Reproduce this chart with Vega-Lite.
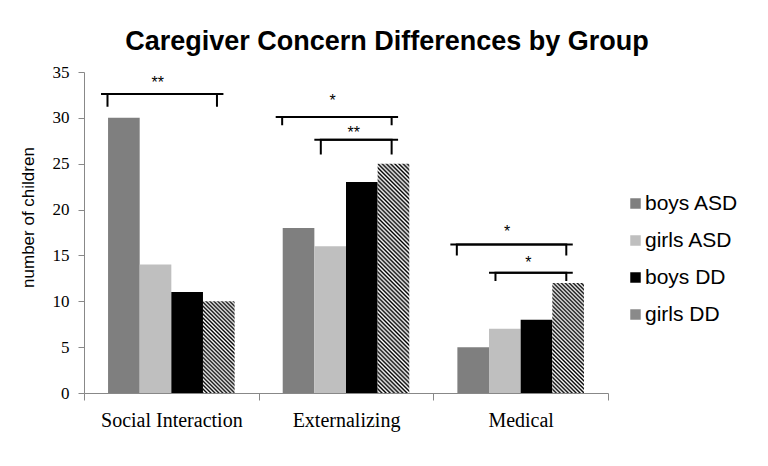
{
  "$schema": "https://vega.github.io/schema/vega-lite/v6.json",
  "width": 524,
  "height": 321,
  "autosize": {"type": "none"},
  "padding": {"left": 84, "top": 72, "right": 160, "bottom": 73},
  "background": "white",
  "title": {"text": "Caregiver Concern Differences by Group", "font": "Liberation Sans", "fontSize": 27, "fontWeight": "bold", "color": "#000", "anchor": "middle", "dx": 41, "offset": 7},
  "config": {"view": {"stroke": null}, "axis": {"grid": false}},
  "resolve": {"scale": {"xOffset": "independent"}},
  "datasets": {
    "bars": [
      {"category": "Social Interaction", "series": "boys ASD", "value": 30},
      {"category": "Social Interaction", "series": "girls ASD", "value": 14},
      {"category": "Social Interaction", "series": "boys DD", "value": 11},
      {"category": "Social Interaction", "series": "girls DD", "value": 10},
      {"category": "Externalizing", "series": "boys ASD", "value": 18},
      {"category": "Externalizing", "series": "girls ASD", "value": 16},
      {"category": "Externalizing", "series": "boys DD", "value": 23},
      {"category": "Externalizing", "series": "girls DD", "value": 25},
      {"category": "Medical", "series": "boys ASD", "value": 5},
      {"category": "Medical", "series": "girls ASD", "value": 7},
      {"category": "Medical", "series": "boys DD", "value": 8},
      {"category": "Medical", "series": "girls DD", "value": 12}
    ],
    "brackets": [
      {"id": "s1", "category": "Social Interaction", "series": "boys ASD", "y": 31.2, "step": 1},
      {"id": "s1", "category": "Social Interaction", "series": "boys ASD", "y": 32.6, "step": 2},
      {"id": "s1", "category": "Social Interaction", "series": "girls DD", "y": 32.6, "step": 3},
      {"id": "s1", "category": "Social Interaction", "series": "girls DD", "y": 31.2, "step": 4},
      {"id": "e1", "category": "Externalizing", "series": "boys ASD", "y": 29.2, "step": 1},
      {"id": "e1", "category": "Externalizing", "series": "boys ASD", "y": 30.1, "step": 2},
      {"id": "e1", "category": "Externalizing", "series": "girls DD", "y": 30.1, "step": 3},
      {"id": "e1", "category": "Externalizing", "series": "girls DD", "y": 29.2, "step": 4},
      {"id": "e2", "category": "Externalizing", "series": "girls ASD", "y": 26.0, "step": 1},
      {"id": "e2", "category": "Externalizing", "series": "girls ASD", "y": 27.6, "step": 2},
      {"id": "e2", "category": "Externalizing", "series": "girls DD", "y": 27.6, "step": 3},
      {"id": "e2", "category": "Externalizing", "series": "girls DD", "y": 26.0, "step": 4},
      {"id": "m1", "category": "Medical", "series": "boys ASD", "y": 15.0, "step": 1},
      {"id": "m1", "category": "Medical", "series": "boys ASD", "y": 16.2, "step": 2},
      {"id": "m1", "category": "Medical", "series": "girls DD", "y": 16.2, "step": 3},
      {"id": "m1", "category": "Medical", "series": "girls DD", "y": 15.0, "step": 4},
      {"id": "m2", "category": "Medical", "series": "girls ASD", "y": 12.2, "step": 1},
      {"id": "m2", "category": "Medical", "series": "girls ASD", "y": 13.1, "step": 2},
      {"id": "m2", "category": "Medical", "series": "girls DD", "y": 13.1, "step": 3},
      {"id": "m2", "category": "Medical", "series": "girls DD", "y": 12.2, "step": 4}
    ],
    "stars": [
      {"category": "Social Interaction", "series": "girls ASD", "y": 33.8, "label": "**"},
      {"category": "Externalizing", "series": "girls ASD", "y": 31.8, "label": "*"},
      {"category": "Externalizing", "series": "boys DD", "y": 28.4, "label": "**"},
      {"category": "Medical", "series": "girls ASD", "y": 17.6, "label": "*"},
      {"category": "Medical", "series": "boys DD", "y": 14.2, "label": "*"}
    ]
  },
  "data": {"name": "bars"},
  "layer": [
    {
      "transform": [{"filter": "datum.series !== 'girls DD'"}],
      "mark": {"type": "bar"},
      "encoding": {
        "x": {"field": "category", "type": "nominal", "scale": {"domain": ["Social Interaction", "Externalizing", "Medical"], "paddingInner": 0, "paddingOuter": 0},
          "axis": {"title": null, "labelAngle": 0, "labelFont": "Liberation Serif", "labelFontSize": 20, "labelColor": "#000", "labelPadding": 10, "tickSize": 7, "tickBand": "extent", "tickColor": "#888", "domainColor": "#888"}},
        "xOffset": {"field": "series", "type": "nominal", "scale": {"domain": ["boys ASD", "girls ASD", "boys DD", "girls DD"], "paddingInner": 0, "paddingOuter": 0.76}},
        "y": {"field": "value", "type": "quantitative", "scale": {"domain": [0, 35], "nice": false},
          "axis": {"values": [0, 5, 10, 15, 20, 25, 30, 35], "title": "number of children", "titleFont": "Liberation Sans", "titleFontSize": 17, "titleFontWeight": "normal", "titleColor": "#000", "titleX": -56, "titleY": 145, "titleAngle": -90, "titleAlign": "center", "titleBaseline": "middle", "labelFont": "Liberation Serif", "labelFontSize": 17, "labelColor": "#000", "labelPadding": 9, "tickSize": 6, "tickColor": "#888", "domainColor": "#888"}},
        "color": {"field": "series", "type": "nominal",
          "scale": {"domain": ["boys ASD", "girls ASD", "boys DD", "girls DD"], "range": ["#7f7f7f", "#bfbfbf", "#000000", "#8a8a8a"]},
          "legend": {"orient": "none", "legendX": 541, "legendY": 121, "title": null, "labelFont": "Liberation Sans", "labelFontSize": 21, "labelColor": "#000", "symbolType": "square", "symbolSize": 110, "symbolStrokeWidth": 0, "rowPadding": 15, "labelOffset": -1, "padding": 0}}
      }
    },
    {
      "transform": [{"filter": "datum.series === 'girls DD' && datum.category === 'Social Interaction'"}],
      "mark": {"type": "bar", "fill": {"gradient": "linear", "x1": 0, "y1": 1, "x2": 0.4139, "y2": -0.2019, "stops": [
        {"offset": 0, "color": "#000"}, {"offset": 0.016, "color": "#fff"}, {"offset": 0.032, "color": "#000"}, {"offset": 0.048, "color": "#fff"}, {"offset": 0.064, "color": "#000"}, {"offset": 0.08, "color": "#fff"}, {"offset": 0.096, "color": "#000"}, {"offset": 0.112, "color": "#fff"}, {"offset": 0.128, "color": "#000"}, {"offset": 0.144, "color": "#fff"}, {"offset": 0.16, "color": "#000"}, {"offset": 0.176, "color": "#fff"}, {"offset": 0.192, "color": "#000"}, {"offset": 0.208, "color": "#fff"}, {"offset": 0.224, "color": "#000"}, {"offset": 0.24, "color": "#fff"}, {"offset": 0.256, "color": "#000"}, {"offset": 0.272, "color": "#fff"}, {"offset": 0.288, "color": "#000"}, {"offset": 0.304, "color": "#fff"}, {"offset": 0.32, "color": "#000"}, {"offset": 0.336, "color": "#fff"}, {"offset": 0.352, "color": "#000"}, {"offset": 0.368, "color": "#fff"}, {"offset": 0.384, "color": "#000"}, {"offset": 0.4, "color": "#fff"}, {"offset": 0.416, "color": "#000"}, {"offset": 0.432, "color": "#fff"}, {"offset": 0.448, "color": "#000"}, {"offset": 0.464, "color": "#fff"}, {"offset": 0.48, "color": "#000"}, {"offset": 0.496, "color": "#fff"}, {"offset": 0.512, "color": "#000"}, {"offset": 0.528, "color": "#fff"}, {"offset": 0.544, "color": "#000"}, {"offset": 0.56, "color": "#fff"}, {"offset": 0.576, "color": "#000"}, {"offset": 0.592, "color": "#fff"}, {"offset": 0.608, "color": "#000"}, {"offset": 0.624, "color": "#fff"}, {"offset": 0.64, "color": "#000"}, {"offset": 0.656, "color": "#fff"}, {"offset": 0.672, "color": "#000"}, {"offset": 0.688, "color": "#fff"}, {"offset": 0.704, "color": "#000"}, {"offset": 0.72, "color": "#fff"}, {"offset": 0.736, "color": "#000"}, {"offset": 0.752, "color": "#fff"}, {"offset": 0.768, "color": "#000"}, {"offset": 0.784, "color": "#fff"}, {"offset": 0.8, "color": "#000"}, {"offset": 0.816, "color": "#fff"}, {"offset": 0.832, "color": "#000"}, {"offset": 0.848, "color": "#fff"}, {"offset": 0.864, "color": "#000"}, {"offset": 0.88, "color": "#fff"}, {"offset": 0.896, "color": "#000"}, {"offset": 0.912, "color": "#fff"}, {"offset": 0.928, "color": "#000"}, {"offset": 0.944, "color": "#fff"}, {"offset": 0.96, "color": "#000"}, {"offset": 0.976, "color": "#fff"}, {"offset": 0.992, "color": "#000"}, {"offset": 1, "color": "#fff"}]}},
      "encoding": {
        "x": {"field": "category", "type": "nominal"},
        "xOffset": {"field": "series", "type": "nominal", "scale": {"domain": ["boys ASD", "girls ASD", "boys DD", "girls DD"], "paddingInner": 0, "paddingOuter": 0.76}},
        "y": {"field": "value", "type": "quantitative"}
      }
    },
    {
      "transform": [{"filter": "datum.series === 'girls DD' && datum.category === 'Externalizing'"}],
      "mark": {"type": "bar", "fill": {"gradient": "linear", "x1": 0, "y1": 1, "x2": 0.1538, "y2": -0.1166, "stops": [
        {"offset": 0, "color": "#000"}, {"offset": 0.008, "color": "#fff"}, {"offset": 0.016, "color": "#000"}, {"offset": 0.024, "color": "#fff"}, {"offset": 0.032, "color": "#000"}, {"offset": 0.04, "color": "#fff"}, {"offset": 0.048, "color": "#000"}, {"offset": 0.056, "color": "#fff"}, {"offset": 0.064, "color": "#000"}, {"offset": 0.072, "color": "#fff"}, {"offset": 0.08, "color": "#000"}, {"offset": 0.088, "color": "#fff"}, {"offset": 0.096, "color": "#000"}, {"offset": 0.104, "color": "#fff"}, {"offset": 0.112, "color": "#000"}, {"offset": 0.12, "color": "#fff"}, {"offset": 0.128, "color": "#000"}, {"offset": 0.136, "color": "#fff"}, {"offset": 0.144, "color": "#000"}, {"offset": 0.152, "color": "#fff"}, {"offset": 0.16, "color": "#000"}, {"offset": 0.168, "color": "#fff"}, {"offset": 0.176, "color": "#000"}, {"offset": 0.184, "color": "#fff"}, {"offset": 0.192, "color": "#000"}, {"offset": 0.2, "color": "#fff"}, {"offset": 0.208, "color": "#000"}, {"offset": 0.216, "color": "#fff"}, {"offset": 0.224, "color": "#000"}, {"offset": 0.232, "color": "#fff"}, {"offset": 0.24, "color": "#000"}, {"offset": 0.248, "color": "#fff"}, {"offset": 0.256, "color": "#000"}, {"offset": 0.264, "color": "#fff"}, {"offset": 0.272, "color": "#000"}, {"offset": 0.28, "color": "#fff"}, {"offset": 0.288, "color": "#000"}, {"offset": 0.296, "color": "#fff"}, {"offset": 0.304, "color": "#000"}, {"offset": 0.312, "color": "#fff"}, {"offset": 0.32, "color": "#000"}, {"offset": 0.328, "color": "#fff"}, {"offset": 0.336, "color": "#000"}, {"offset": 0.344, "color": "#fff"}, {"offset": 0.352, "color": "#000"}, {"offset": 0.36, "color": "#fff"}, {"offset": 0.368, "color": "#000"}, {"offset": 0.376, "color": "#fff"}, {"offset": 0.384, "color": "#000"}, {"offset": 0.392, "color": "#fff"}, {"offset": 0.4, "color": "#000"}, {"offset": 0.408, "color": "#fff"}, {"offset": 0.416, "color": "#000"}, {"offset": 0.424, "color": "#fff"}, {"offset": 0.432, "color": "#000"}, {"offset": 0.44, "color": "#fff"}, {"offset": 0.448, "color": "#000"}, {"offset": 0.456, "color": "#fff"}, {"offset": 0.464, "color": "#000"}, {"offset": 0.472, "color": "#fff"}, {"offset": 0.48, "color": "#000"}, {"offset": 0.488, "color": "#fff"}, {"offset": 0.496, "color": "#000"}, {"offset": 0.504, "color": "#fff"}, {"offset": 0.512, "color": "#000"}, {"offset": 0.52, "color": "#fff"}, {"offset": 0.528, "color": "#000"}, {"offset": 0.536, "color": "#fff"}, {"offset": 0.544, "color": "#000"}, {"offset": 0.552, "color": "#fff"}, {"offset": 0.56, "color": "#000"}, {"offset": 0.568, "color": "#fff"}, {"offset": 0.576, "color": "#000"}, {"offset": 0.584, "color": "#fff"}, {"offset": 0.592, "color": "#000"}, {"offset": 0.6, "color": "#fff"}, {"offset": 0.608, "color": "#000"}, {"offset": 0.616, "color": "#fff"}, {"offset": 0.624, "color": "#000"}, {"offset": 0.632, "color": "#fff"}, {"offset": 0.64, "color": "#000"}, {"offset": 0.648, "color": "#fff"}, {"offset": 0.656, "color": "#000"}, {"offset": 0.664, "color": "#fff"}, {"offset": 0.672, "color": "#000"}, {"offset": 0.68, "color": "#fff"}, {"offset": 0.688, "color": "#000"}, {"offset": 0.696, "color": "#fff"}, {"offset": 0.704, "color": "#000"}, {"offset": 0.712, "color": "#fff"}, {"offset": 0.72, "color": "#000"}, {"offset": 0.728, "color": "#fff"}, {"offset": 0.736, "color": "#000"}, {"offset": 0.744, "color": "#fff"}, {"offset": 0.752, "color": "#000"}, {"offset": 0.76, "color": "#fff"}, {"offset": 0.768, "color": "#000"}, {"offset": 0.776, "color": "#fff"}, {"offset": 0.784, "color": "#000"}, {"offset": 0.792, "color": "#fff"}, {"offset": 0.8, "color": "#000"}, {"offset": 0.808, "color": "#fff"}, {"offset": 0.816, "color": "#000"}, {"offset": 0.824, "color": "#fff"}, {"offset": 0.832, "color": "#000"}, {"offset": 0.84, "color": "#fff"}, {"offset": 0.848, "color": "#000"}, {"offset": 0.856, "color": "#fff"}, {"offset": 0.864, "color": "#000"}, {"offset": 0.872, "color": "#fff"}, {"offset": 0.88, "color": "#000"}, {"offset": 0.888, "color": "#fff"}, {"offset": 0.896, "color": "#000"}, {"offset": 0.904, "color": "#fff"}, {"offset": 0.912, "color": "#000"}, {"offset": 0.92, "color": "#fff"}, {"offset": 0.928, "color": "#000"}, {"offset": 0.936, "color": "#fff"}, {"offset": 0.944, "color": "#000"}, {"offset": 0.952, "color": "#fff"}, {"offset": 0.96, "color": "#000"}, {"offset": 0.968, "color": "#fff"}, {"offset": 0.976, "color": "#000"}, {"offset": 0.984, "color": "#fff"}, {"offset": 0.992, "color": "#000"}, {"offset": 1, "color": "#fff"}]}},
      "encoding": {
        "x": {"field": "category", "type": "nominal"},
        "xOffset": {"field": "series", "type": "nominal", "scale": {"domain": ["boys ASD", "girls ASD", "boys DD", "girls DD"], "paddingInner": 0, "paddingOuter": 0.76}},
        "y": {"field": "value", "type": "quantitative"}
      }
    },
    {
      "transform": [{"filter": "datum.series === 'girls DD' && datum.category === 'Medical'"}],
      "mark": {"type": "bar", "fill": {"gradient": "linear", "x1": 0, "y1": 1, "x2": 0.3412, "y2": -0.1891, "stops": [
        {"offset": 0, "color": "#000"}, {"offset": 0.014, "color": "#fff"}, {"offset": 0.028, "color": "#000"}, {"offset": 0.042, "color": "#fff"}, {"offset": 0.056, "color": "#000"}, {"offset": 0.07, "color": "#fff"}, {"offset": 0.084, "color": "#000"}, {"offset": 0.098, "color": "#fff"}, {"offset": 0.112, "color": "#000"}, {"offset": 0.126, "color": "#fff"}, {"offset": 0.14, "color": "#000"}, {"offset": 0.154, "color": "#fff"}, {"offset": 0.168, "color": "#000"}, {"offset": 0.182, "color": "#fff"}, {"offset": 0.196, "color": "#000"}, {"offset": 0.21, "color": "#fff"}, {"offset": 0.224, "color": "#000"}, {"offset": 0.238, "color": "#fff"}, {"offset": 0.252, "color": "#000"}, {"offset": 0.266, "color": "#fff"}, {"offset": 0.28, "color": "#000"}, {"offset": 0.294, "color": "#fff"}, {"offset": 0.308, "color": "#000"}, {"offset": 0.322, "color": "#fff"}, {"offset": 0.336, "color": "#000"}, {"offset": 0.35, "color": "#fff"}, {"offset": 0.364, "color": "#000"}, {"offset": 0.378, "color": "#fff"}, {"offset": 0.392, "color": "#000"}, {"offset": 0.406, "color": "#fff"}, {"offset": 0.42, "color": "#000"}, {"offset": 0.434, "color": "#fff"}, {"offset": 0.448, "color": "#000"}, {"offset": 0.462, "color": "#fff"}, {"offset": 0.476, "color": "#000"}, {"offset": 0.49, "color": "#fff"}, {"offset": 0.504, "color": "#000"}, {"offset": 0.518, "color": "#fff"}, {"offset": 0.532, "color": "#000"}, {"offset": 0.546, "color": "#fff"}, {"offset": 0.56, "color": "#000"}, {"offset": 0.574, "color": "#fff"}, {"offset": 0.588, "color": "#000"}, {"offset": 0.602, "color": "#fff"}, {"offset": 0.616, "color": "#000"}, {"offset": 0.63, "color": "#fff"}, {"offset": 0.644, "color": "#000"}, {"offset": 0.658, "color": "#fff"}, {"offset": 0.672, "color": "#000"}, {"offset": 0.686, "color": "#fff"}, {"offset": 0.7, "color": "#000"}, {"offset": 0.714, "color": "#fff"}, {"offset": 0.728, "color": "#000"}, {"offset": 0.742, "color": "#fff"}, {"offset": 0.756, "color": "#000"}, {"offset": 0.77, "color": "#fff"}, {"offset": 0.784, "color": "#000"}, {"offset": 0.798, "color": "#fff"}, {"offset": 0.812, "color": "#000"}, {"offset": 0.826, "color": "#fff"}, {"offset": 0.84, "color": "#000"}, {"offset": 0.854, "color": "#fff"}, {"offset": 0.868, "color": "#000"}, {"offset": 0.882, "color": "#fff"}, {"offset": 0.896, "color": "#000"}, {"offset": 0.91, "color": "#fff"}, {"offset": 0.924, "color": "#000"}, {"offset": 0.938, "color": "#fff"}, {"offset": 0.952, "color": "#000"}, {"offset": 0.966, "color": "#fff"}, {"offset": 0.98, "color": "#000"}, {"offset": 0.994, "color": "#fff"}]}},
      "encoding": {
        "x": {"field": "category", "type": "nominal"},
        "xOffset": {"field": "series", "type": "nominal", "scale": {"domain": ["boys ASD", "girls ASD", "boys DD", "girls DD"], "paddingInner": 0, "paddingOuter": 0.76}},
        "y": {"field": "value", "type": "quantitative"}
      }
    },
    {
      "data": {"name": "brackets"},
      "transform": [{"filter": "datum.step <= 3"}],
      "mark": {"type": "line", "color": "#000", "strokeWidth": 2},
      "encoding": {
        "x": {"field": "category", "type": "nominal"},
        "xOffset": {"field": "series", "type": "nominal", "scale": {"domain": ["boys ASD", "girls ASD", "boys DD", "girls DD"], "paddingInner": 0, "paddingOuter": 0.76, "align": 0.4}},
        "y": {"field": "y", "type": "quantitative"},
        "detail": {"field": "id", "type": "nominal"},
        "order": {"field": "step", "type": "quantitative"}
      }
    },
    {
      "data": {"name": "brackets"},
      "transform": [{"filter": "datum.step >= 2"}],
      "mark": {"type": "line", "color": "#000", "strokeWidth": 2},
      "encoding": {
        "x": {"field": "category", "type": "nominal"},
        "xOffset": {"field": "series", "type": "nominal", "scale": {"domain": ["boys ASD", "girls ASD", "boys DD", "girls DD"], "paddingInner": 0, "paddingOuter": 0.76, "align": 0.29}},
        "y": {"field": "y", "type": "quantitative"},
        "detail": {"field": "id", "type": "nominal"},
        "order": {"field": "step", "type": "quantitative"}
      }
    },
    {
      "data": {"name": "stars"},
      "transform": [{"filter": "datum.series === 'girls ASD'"}],
      "mark": {"type": "text", "font": "Liberation Sans", "fontSize": 16, "color": "#000", "baseline": "middle", "align": "center"},
      "encoding": {
        "x": {"field": "category", "type": "nominal"},
        "xOffset": {"field": "series", "type": "nominal", "scale": {"domain": ["boys ASD", "girls ASD", "boys DD", "girls DD"], "paddingInner": 0, "paddingOuter": 0.76, "align": 0.599}},
        "y": {"field": "y", "type": "quantitative"},
        "text": {"field": "label", "type": "nominal"}
      }
    },
    {
      "data": {"name": "stars"},
      "transform": [{"filter": "datum.series === 'boys DD'"}],
      "mark": {"type": "text", "font": "Liberation Sans", "fontSize": 16, "color": "#000", "baseline": "middle", "align": "center"},
      "encoding": {
        "x": {"field": "category", "type": "nominal"},
        "xOffset": {"field": "series", "type": "nominal", "scale": {"domain": ["boys ASD", "girls ASD", "boys DD", "girls DD"], "paddingInner": 0, "paddingOuter": 0.76, "align": 0.303}},
        "y": {"field": "y", "type": "quantitative"},
        "text": {"field": "label", "type": "nominal"}
      }
    }
  ]
}
